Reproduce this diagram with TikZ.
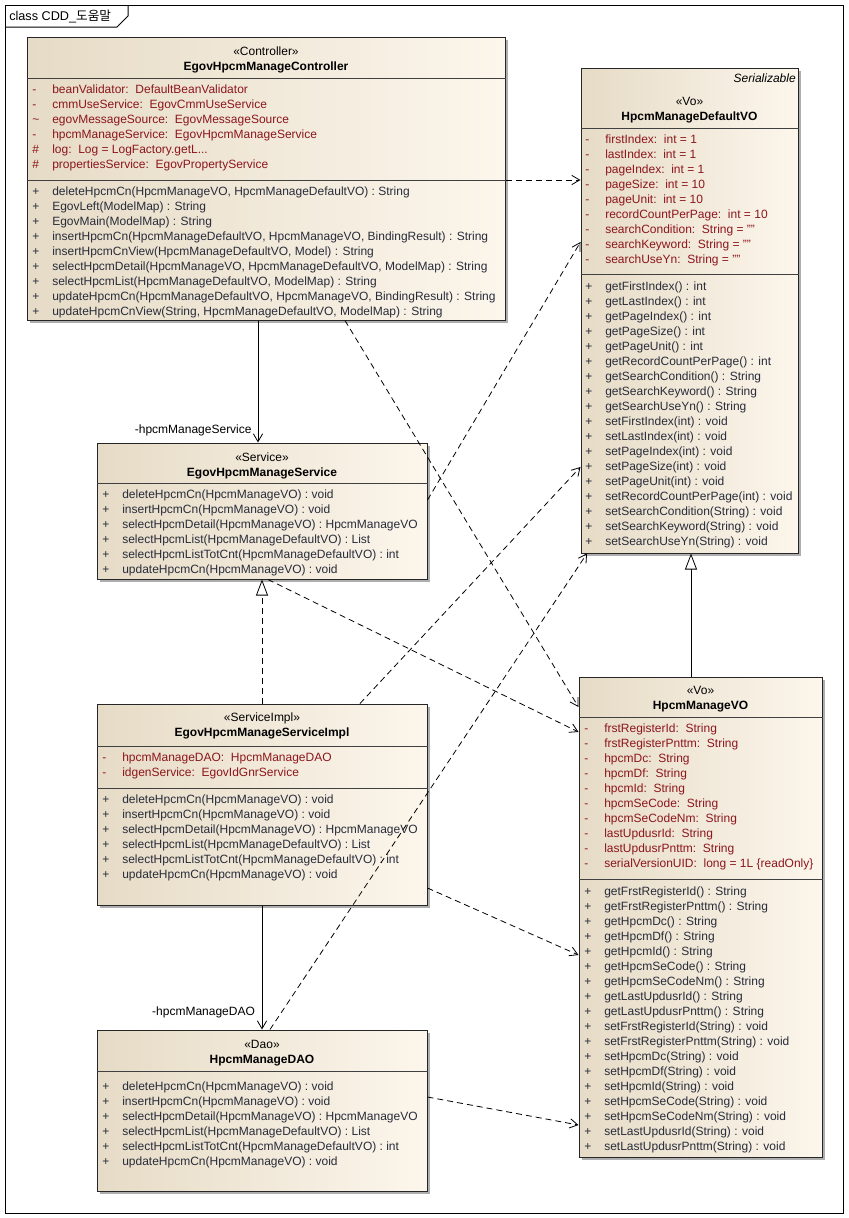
\documentclass[tikz,border=0pt]{standalone}
\usepackage{fontspec}
\setmainfont{Liberation Sans}
\newfontfamily\kofont{Noto Sans CJK KR}
\usetikzlibrary{arrows.meta,fit,shadows}

\definecolor{boxleft}{RGB}{230,219,198}
\definecolor{boxright}{RGB}{252,246,236}
\definecolor{attrred}{RGB}{140,22,28}
\definecolor{opgray}{RGB}{40,44,58}

% visibility column
\newcommand{\vis}[1]{\makebox[15pt][l]{#1}}
% operations shared by service, impl and dao
\newcommand{\hpcmops}{\vis{+}deleteHpcmCn(HpcmManageVO) : void\\
  \vis{+}insertHpcmCn(HpcmManageVO) : void\\
  \vis{+}selectHpcmDetail(HpcmManageVO) : HpcmManageVO\\
  \vis{+}selectHpcmList(HpcmManageDefaultVO) : List\\
  \vis{+}selectHpcmListTotCnt(HpcmManageDefaultVO) : int\\
  \vis{+}updateHpcmCn(HpcmManageVO) : void}

% multi-line nodes sit on the baseline of their last line
\tikzset{
  umlbox/.style={draw=black!85, line width=0.75pt, left color=boxleft, right color=boxright,
    inner sep=0pt, drop shadow={shadow xshift=2.5pt, shadow yshift=-2.5pt, fill=black!45, opacity=0.7}},
  classhead/.style={anchor=base, align=center, inner sep=0pt, font=\fontsize{9}{11.25}\selectfont},
  attrs/.style={anchor=base west, align=left, inner sep=0pt, text=attrred, font=\fontsize{9}{11.25}\selectfont},
  ops/.style={attrs, text=opgray},
  sep/.style={draw=black!75, line width=0.75pt},
  dep/.style={draw, line width=0.6pt, dash pattern=on 4.5pt off 3pt, -{Straight Barb[length=6pt,width=7pt]}},
  assoc/.style={draw, line width=0.6pt, -{Straight Barb[length=6pt,width=7pt]}},
  realize/.style={draw, line width=0.6pt, dash pattern=on 4.5pt off 3pt, -{Triangle[open,fill=white,length=12pt,width=9pt]}},
  general/.style={draw, line width=0.6pt, -{Triangle[open,fill=white,length=12pt,width=9pt]}},
  rolelabel/.style={inner sep=0pt, font=\fontsize{9}{11}\selectfont},
}

\begin{document}
\begin{tikzpicture}[x=0.75pt, y=-0.75pt]
    \useasboundingbox (0,0) rectangle (849,1218);
    % Frame
    \draw[line width=0.75pt] (5,5) rectangle (843,1213);
    \draw[line width=0.75pt] (5,27) -- (117,27) -- (128,16) -- (128,5);
    \node[anchor=base west, inner sep=0pt, font=\fontsize{9.5}{11}\selectfont] (title) at (9,20) {class CDD\_{\kofont 도움말}};

    % Controller
    \node[umlbox, fit={(27,37) (505,320)}] (ctrl) {};
    \node[classhead] (ctrlhead) at (266,70) {«Controller»\\\textbf{EgovHpcmManageController}};
    \draw[sep] (ctrl.west |- 0,78) -- (ctrl.east |- 0,78);
    \node[attrs] (ctrlattr) at (32,168) {\vis{-}beanValidator:\ \ DefaultBeanValidator\\
      \vis{-}cmmUseService:\ \ EgovCmmUseService\\
      \vis{\textasciitilde}egovMessageSource:\ \ EgovMessageSource\\
      \vis{-}hpcmManageService:\ \ EgovHpcmManageService\\
      \vis{\#}log:\ \ Log = LogFactory.getL...\\
      \vis{\#}propertiesService:\ \ EgovPropertyService};
    \draw[sep] (ctrl.west |- 0,180) -- (ctrl.east |- 0,180);
    \node[ops] (ctrlops) at (32,315) {\vis{+}deleteHpcmCn(HpcmManageVO, HpcmManageDefaultVO) : String\\
      \vis{+}EgovLeft(ModelMap) : String\\
      \vis{+}EgovMain(ModelMap) : String\\
      \vis{+}insertHpcmCn(HpcmManageDefaultVO, HpcmManageVO, BindingResult) : String\\
      \vis{+}insertHpcmCnView(HpcmManageDefaultVO, Model) : String\\
      \vis{+}selectHpcmDetail(HpcmManageVO, HpcmManageDefaultVO, ModelMap) : String\\
      \vis{+}selectHpcmList(HpcmManageDefaultVO, ModelMap) : String\\
      \vis{+}updateHpcmCn(HpcmManageDefaultVO, HpcmManageVO, BindingResult) : String\\
      \vis{+}updateHpcmCnView(String, HpcmManageDefaultVO, ModelMap) : String};

    % HpcmManageDefaultVO
    \node[umlbox, fit={(581,68) (798,553)}] (defvo) {};
    \node[anchor=base east, inner sep=0pt, font=\fontsize{9}{11}\selectfont\itshape] (defvoiface) at (796,82) {Serializable};
    \node[classhead] (defvohead) at (689.5,120) {«Vo»\\\textbf{HpcmManageDefaultVO}};
    \draw[sep] (defvo.west |- 0,128) -- (defvo.east |- 0,128);
    \node[attrs] (defvoattr) at (585,263) {\vis{-}firstIndex:\ \ int = 1\\
      \vis{-}lastIndex:\ \ int = 1\\
      \vis{-}pageIndex:\ \ int = 1\\
      \vis{-}pageSize:\ \ int = 10\\
      \vis{-}pageUnit:\ \ int = 10\\
      \vis{-}recordCountPerPage:\ \ int = 10\\
      \vis{-}searchCondition:\ \ String = ""\\
      \vis{-}searchKeyword:\ \ String = ""\\
      \vis{-}searchUseYn:\ \ String = ""};
    \draw[sep] (defvo.west |- 0,274) -- (defvo.east |- 0,274);
    \node[ops] (defvoops) at (585,545) {\vis{+}getFirstIndex() : int\\
      \vis{+}getLastIndex() : int\\
      \vis{+}getPageIndex() : int\\
      \vis{+}getPageSize() : int\\
      \vis{+}getPageUnit() : int\\
      \vis{+}getRecordCountPerPage() : int\\
      \vis{+}getSearchCondition() : String\\
      \vis{+}getSearchKeyword() : String\\
      \vis{+}getSearchUseYn() : String\\
      \vis{+}setFirstIndex(int) : void\\
      \vis{+}setLastIndex(int) : void\\
      \vis{+}setPageIndex(int) : void\\
      \vis{+}setPageSize(int) : void\\
      \vis{+}setPageUnit(int) : void\\
      \vis{+}setRecordCountPerPage(int) : void\\
      \vis{+}setSearchCondition(String) : void\\
      \vis{+}setSearchKeyword(String) : void\\
      \vis{+}setSearchUseYn(String) : void};

    % EgovHpcmManageService
    \node[umlbox, fit={(97,443) (427,579)}] (svc) {};
    \node[classhead] (svchead) at (262,476) {«Service»\\\textbf{EgovHpcmManageService}};
    \draw[sep] (svc.west |- 0,483) -- (svc.east |- 0,483);
    \node[ops] (svcops) at (102,573) {\hpcmops};

    % EgovHpcmManageServiceImpl
    \node[umlbox, fit={(97,704) (427,905)}] (svcimpl) {};
    \node[classhead] (svcimplhead) at (262,736) {«ServiceImpl»\\\textbf{EgovHpcmManageServiceImpl}};
    \draw[sep] (svcimpl.west |- 0,746) -- (svcimpl.east |- 0,746);
    \node[attrs] (svcimplattr) at (102,776) {\vis{-}hpcmManageDAO:\ \ HpcmManageDAO\\
      \vis{-}idgenService:\ \ EgovIdGnrService};
    \draw[sep] (svcimpl.west |- 0,788) -- (svcimpl.east |- 0,788);
    \node[ops] (svcimplops) at (102,878) {\hpcmops};

    % HpcmManageDAO
    \node[umlbox, fit={(97,1030) (427,1191)}] (dao) {};
    \node[classhead] (daohead) at (262,1063) {«Dao»\\\textbf{HpcmManageDAO}};
    \draw[sep] (dao.west |- 0,1071) -- (dao.east |- 0,1071);
    \node[ops] (daoops) at (102,1165) {\hpcmops};

    % HpcmManageVO
    \node[umlbox, fit={(579,677) (822,1157)}] (vo) {};
    \node[classhead] (vohead) at (700.5,709) {«Vo»\\\textbf{HpcmManageVO}};
    \draw[sep] (vo.west |- 0,717) -- (vo.east |- 0,717);
    \node[attrs] (voattr) at (584,867) {\vis{-}frstRegisterId:\ \ String\\
      \vis{-}frstRegisterPnttm:\ \ String\\
      \vis{-}hpcmDc:\ \ String\\
      \vis{-}hpcmDf:\ \ String\\
      \vis{-}hpcmId:\ \ String\\
      \vis{-}hpcmSeCode:\ \ String\\
      \vis{-}hpcmSeCodeNm:\ \ String\\
      \vis{-}lastUpdusrId:\ \ String\\
      \vis{-}lastUpdusrPnttm:\ \ String\\
      \vis{-}serialVersionUID:\ \ long = 1L \{readOnly\}};
    \draw[sep] (vo.west |- 0,879) -- (vo.east |- 0,879);
    \node[ops] (voops) at (584,1150) {\vis{+}getFrstRegisterId() : String\\
      \vis{+}getFrstRegisterPnttm() : String\\
      \vis{+}getHpcmDc() : String\\
      \vis{+}getHpcmDf() : String\\
      \vis{+}getHpcmId() : String\\
      \vis{+}getHpcmSeCode() : String\\
      \vis{+}getHpcmSeCodeNm() : String\\
      \vis{+}getLastUpdusrId() : String\\
      \vis{+}getLastUpdusrPnttm() : String\\
      \vis{+}setFrstRegisterId(String) : void\\
      \vis{+}setFrstRegisterPnttm(String) : void\\
      \vis{+}setHpcmDc(String) : void\\
      \vis{+}setHpcmDf(String) : void\\
      \vis{+}setHpcmId(String) : void\\
      \vis{+}setHpcmSeCode(String) : void\\
      \vis{+}setHpcmSeCodeNm(String) : void\\
      \vis{+}setLastUpdusrId(String) : void\\
      \vis{+}setLastUpdusrPnttm(String) : void};

    % Associations
    \draw[assoc] (ctrl.south -| 258,0) -- (svc.north -| 258,0)
      node[rolelabel, pos=1, anchor=south east, xshift=-4.5pt, yshift=4.5pt] {-hpcmManageService};
    \draw[assoc] (svcimpl.south -| 262,0) -- (dao.north -| 262,0)
      node[rolelabel, pos=1, anchor=south east, xshift=-5pt, yshift=8pt] {-hpcmManageDAO};
    % Realization and generalization
    \draw[realize] (svcimpl.north -| 262,0) -- (svc.south -| 262,0);
    \draw[general] (vo.north -| 691,0) -- (defvo.south -| 691,0);
    % Dependencies
    \draw[dep] (ctrl.east |- 0,180) -- (defvo.west |- 0,180);
    \draw[dep] (ctrl.south -| 345,0) -- (vo.west |- 0,707);
    \draw[dep] (svc.east |- 0,500) -- (defvo.west |- 0,242);
    \draw[dep] (svc.south -| 268,0) -- (vo.west |- 0,732);
    \draw[dep] (svcimpl.north -| 360,0) -- (defvo.west |- 0,467);
    \draw[dep] (svcimpl.east |- 0,888) -- (vo.west |- 0,955);
    \draw[dep] (dao.north -| 270,0) -- (defvo.south -| 587,0);
    \draw[dep] (dao.east |- 0,1097) -- (vo.west |- 0,1125);
\end{tikzpicture}
\end{document}
